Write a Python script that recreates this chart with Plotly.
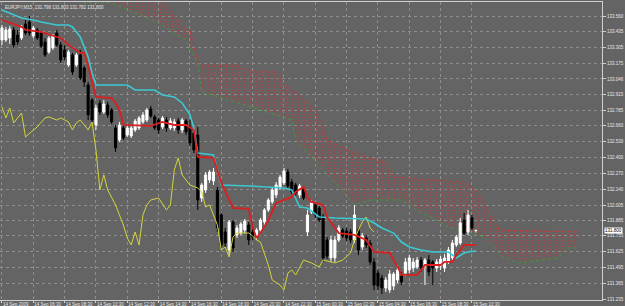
import plotly.graph_objects as go

# ---------------- data (EURJPY, M15) ----------------
open_ = [133.367,133.367,133.383,133.449,133.408,133.383,133.498,133.515,133.400,133.449,
         133.424,133.350,133.268,133.301,133.424,133.326,133.285,133.161,133.243,133.161,
         133.243,133.136,132.996,132.873,132.667,132.848,132.774,132.832,132.791,132.643,
         132.544,132.643,132.585,132.577,132.626,132.643,132.692,132.708,132.799,132.733,
         132.708,132.651,132.708,132.643,132.643,132.700,132.626,132.700,132.651,132.601,
         132.585,132.066,132.132,132.215,132.206,132.132,131.927,131.787,131.639,131.869,
         131.762,131.778,131.803,131.844,131.787,131.754,131.803,131.869,131.968,132.034,
         132.091,132.149,132.190,132.280,132.198,132.173,132.091,132.141,131.787,131.951,
         132.009,131.984,131.910,131.721,131.573,131.573,131.721,131.803,131.795,131.787,
         131.721,131.803,131.663,131.737,131.696,131.540,131.449,131.408,131.326,131.309,
         131.342,131.392,131.424,131.449,131.474,131.490,131.499,131.556,131.507,131.556,
         131.540,131.490,131.507,131.490,131.540,131.573,131.680,131.696,131.885,131.787,
         131.902,131.798]
high = [133.490,133.474,133.482,133.474,133.449,133.490,133.531,133.564,133.482,133.466,
        133.441,133.383,133.400,133.416,133.449,133.350,133.326,133.285,133.260,133.260,
        133.285,133.153,133.021,132.889,132.832,132.873,132.873,132.857,132.807,132.667,
        132.692,132.667,132.667,132.659,132.717,132.741,132.774,132.807,132.824,132.750,
        132.725,132.741,132.733,132.725,132.717,132.725,132.725,132.717,132.708,132.626,
        132.651,132.190,132.280,132.297,132.313,132.157,131.943,131.820,131.885,131.885,
        131.844,131.869,131.894,131.869,131.811,131.820,131.902,131.984,132.066,132.149,
        132.198,132.256,132.313,132.305,132.223,132.190,132.182,132.165,131.968,132.050,
        132.025,132.001,131.935,131.746,131.754,131.754,131.844,131.820,131.820,131.811,
        132.009,131.820,131.778,131.762,131.721,131.573,131.474,131.433,131.416,131.474,
        131.458,131.515,131.458,131.573,131.597,131.573,131.581,131.581,131.573,131.597,
        131.556,131.564,131.589,131.606,131.663,131.721,131.762,131.902,131.943,131.968,
        131.927,131.803]
low = [133.326,133.350,133.334,133.301,133.326,133.367,133.408,133.400,133.383,133.367,
       133.301,133.227,133.252,133.285,133.309,133.178,133.202,133.145,133.079,133.145,
       133.038,132.980,132.708,132.684,132.626,132.750,132.758,132.725,132.676,132.445,
       132.527,132.544,132.569,132.560,132.610,132.626,132.676,132.692,132.725,132.626,
       132.593,132.634,132.610,132.626,132.618,132.593,132.601,132.585,132.494,132.437,
       131.968,132.034,132.108,132.190,132.173,131.787,131.655,131.663,131.597,131.622,
       131.737,131.762,131.778,131.680,131.721,131.721,131.787,131.844,131.951,132.017,
       132.066,132.132,132.173,132.149,132.099,132.083,132.066,132.050,131.754,131.935,
       131.902,131.869,131.540,131.565,131.540,131.540,131.704,131.737,131.713,131.696,
       131.696,131.597,131.639,131.655,131.515,131.309,131.309,131.276,131.293,131.285,
       131.309,131.367,131.350,131.424,131.449,131.458,131.482,131.458,131.350,131.424,
       131.350,131.458,131.474,131.458,131.523,131.556,131.663,131.680,131.762,131.762,
       131.803,131.782]
close = [133.466,133.449,133.457,133.326,133.350,133.466,133.424,133.424,133.466,133.383,
         133.317,133.243,133.383,133.400,133.326,133.202,133.227,133.268,133.103,133.243,
         133.054,133.021,132.750,132.708,132.807,132.774,132.840,132.750,132.692,132.478,
         132.667,132.560,132.643,132.643,132.700,132.725,132.750,132.791,132.741,132.643,
         132.626,132.725,132.643,132.700,132.692,132.626,132.708,132.610,132.519,132.462,
         132.050,132.173,132.256,132.280,132.280,131.820,131.680,131.696,131.869,131.655,
         131.820,131.853,131.877,131.721,131.746,131.803,131.885,131.968,132.050,132.132,
         132.173,132.239,132.289,132.165,132.116,132.108,132.165,132.066,131.927,132.025,
         131.927,131.885,131.573,131.589,131.721,131.721,131.820,131.754,131.737,131.721,
         131.927,131.639,131.754,131.680,131.540,131.350,131.342,131.326,131.392,131.441,
         131.441,131.474,131.375,131.540,131.573,131.540,131.556,131.490,131.556,131.458,
         131.490,131.540,131.564,131.573,131.639,131.696,131.746,131.861,131.778,131.927,
         131.820,131.800]
bars = list(range(len(close)))

# Ichimoku lines (bar index of each vertex, price)
tenkan_bar = [0,2,5,6,10,14,15,17,20,21,22,24,28,29,30,31,38,41,44,47,48,49,50,54,56,59,63,64,65,66,
              68,70,74,75,77,78,79,82,83,86,90,93,95,99,101,102,106,108,112,113,115,116,118,121]
tenkan_val = [133.531,133.507,133.474,133.449,133.433,133.391,133.383,133.326,133.260,133.260,
              133.153,132.898,132.889,132.848,132.791,132.667,132.659,132.692,132.667,132.667,
              132.643,132.626,132.404,132.396,132.190,131.984,131.976,131.828,131.737,131.778,
              131.885,132.025,132.075,132.116,132.157,132.075,132.034,132.009,131.910,131.778,
              131.762,131.721,131.622,131.614,131.499,131.433,131.433,131.515,131.515,131.540,
              131.540,131.597,131.680,131.680]
kijun_bar = [0,2,5,8,10,14,17,18,20,22,23,24,32,34,39,41,44,46,48,49,50,54,56,63,69,72,74,76,78,81,
             85,93,95,97,100,102,104,107,110,114,116,118,119,121]
kijun_val = [133.614,133.589,133.548,133.531,133.515,133.490,133.490,133.474,133.391,133.227,
             133.095,132.996,132.996,132.955,132.955,132.914,132.898,132.848,132.750,132.643,
             132.437,132.420,132.173,132.165,132.157,132.149,132.132,131.992,131.984,131.910,
             131.902,131.894,131.861,131.820,131.778,131.704,131.663,131.639,131.622,131.622,
             131.573,131.614,131.622,131.630]
chikou_bar = [0,1,2,3,5,6,9,11,12,14,15,17,18,19,20,22,23,24,25,26,27,29,31,32,33,34,35,36,37,38,
              40,42,43,44,45,46,48,50,51,52,53,54,55,56,57,58,59,60,63,64,65,66,68,69,71,72,73,74,
              75,77,79,81,82,85,87,89,90,91,92,93,94,95]
chikou_val = [132.815,132.725,132.807,132.684,132.766,132.569,132.651,132.725,132.733,132.708,
              132.725,132.692,132.626,132.684,132.708,132.626,132.692,132.462,132.132,132.256,
              132.132,132.009,131.844,131.737,131.680,131.787,131.680,131.927,132.009,132.050,
              132.066,131.968,132.009,132.297,132.396,132.256,132.173,132.149,132.116,131.992,
              132.009,131.927,131.844,131.639,131.663,131.581,131.746,131.778,131.778,131.754,
              131.721,131.704,131.515,131.392,131.350,131.309,131.449,131.474,131.433,131.556,
              131.532,131.499,131.556,131.532,131.556,131.614,131.721,131.803,131.869,131.910,
              131.820,131.787]
spanA_bar = [0,18,21,25,28,40,47,50,51,58,66,74,75,79,86,90,94,102,106,111,114,123,128,132,142,144,147]
spanA_val = [133.800,133.737,133.671,133.680,133.671,133.507,133.367,133.177,132.939,132.873,
             132.791,132.708,132.544,132.404,132.157,132.009,132.050,132.050,131.968,131.885,
             131.828,131.746,131.581,131.532,131.573,131.655,131.655]
spanB_bar = [0,41,42,45,46,48,50,51,60,62,70,72,76,81,83,90,98,100,118,121,127,147]
spanB_val = [133.850,133.850,133.638,133.531,133.466,133.449,133.186,133.161,133.161,133.120,
             133.103,132.996,132.914,132.750,132.544,132.437,132.355,132.239,132.198,132.132,
             131.803,131.787]

# axis labels
xtick_bar = [0,8,16,24,32,40,48,56,64,72,80,88,96,104,112,120]
xtick_text = ["14 Sep 2009","14 Sep 06:30","14 Sep 08:30","14 Sep 10:30","14 Sep 12:30",
              "14 Sep 14:30","14 Sep 16:30","14 Sep 18:30","14 Sep 20:30","14 Sep 22:30",
              "15 Sep 00:30","15 Sep 02:30","15 Sep 04:30","15 Sep 06:30","15 Sep 08:30",
              "15 Sep 10:30"]
ytick_text = ["133.560","133.435","133.305","133.175","133.046","132.915","132.785","132.660",
              "132.530","132.400","132.270","132.140","132.005","131.885","131.755","131.625",
              "131.495","131.365","131.235"]
ytick_val = [float(t) for t in ytick_text]
title_text = "EURJPY,M15  131.798 131.803 131.782 131.800"
last_price = 131.800

# ---------------- styling ----------------
BG = "#646464"
GRID = "#8e8e8e"
FRAME = "#cfcfcf"
TXT = "#e8e8e8"
FONT = "Liberation Sans"
XR = [-0.5, 153.2]
YR = [131.227, 133.679]

fig = go.Figure()
# cloud (bottom subplot)
fig.add_trace(go.Scatter(x=spanB_bar, y=spanB_val, mode="lines",
                         line=dict(color="#c83a3a", width=1, dash="dot"), hoverinfo="skip"))
fig.add_trace(go.Scatter(x=spanA_bar, y=spanA_val, mode="lines",
                         line=dict(color="#3c9c3c", width=1, dash="dot"),
                         fill="tonexty", fillcolor="rgba(0,0,0,0)",
                         fillpattern=dict(shape=".", fgcolor="#e02828", bgcolor="rgba(0,0,0,0)",
                                          size=3, solidity=0.24),
                         hoverinfo="skip"))
# candles + lines (overlay subplot, drawn on top)
fig.add_trace(go.Candlestick(x=bars, open=open_, high=high, low=low, close=close,
                             xaxis="x2", yaxis="y2", whiskerwidth=0,
                             increasing=dict(line=dict(color="#ffffff", width=1), fillcolor="#ffffff"),
                             decreasing=dict(line=dict(color="#000000", width=1), fillcolor="#000000")))
fig.add_trace(go.Scatter(x=chikou_bar, y=chikou_val, mode="lines", xaxis="x2", yaxis="y2",
                         line=dict(color="#d4d43a", width=1)))
fig.add_trace(go.Scatter(x=kijun_bar, y=kijun_val, mode="lines", xaxis="x2", yaxis="y2",
                         line=dict(color="#3cc8d2", width=1.6)))
fig.add_trace(go.Scatter(x=tenkan_bar, y=tenkan_val, mode="lines", xaxis="x2", yaxis="y2",
                         line=dict(color="#dc1e1e", width=1.8)))

fig.update_layout(
    width=625, height=306, margin=dict(l=0, r=23, t=2, b=6),
    paper_bgcolor=BG, plot_bgcolor=BG, showlegend=False, boxgap=0.25,
    xaxis=dict(range=XR, tickvals=xtick_bar, ticktext=xtick_text, showgrid=True,
               gridcolor=GRID, griddash="dot", gridwidth=1, zeroline=False,
               showline=True, linecolor=FRAME, linewidth=1, mirror=True,
               ticks="outside", ticklen=2, tickcolor=FRAME, ticklabelposition="outside right",
               tickangle=0, tickfont=dict(size=4.5, color=TXT, family=FONT),
               rangeslider=dict(visible=False), fixedrange=True),
    yaxis=dict(range=YR, side="right", tickvals=ytick_val, ticktext=ytick_text,
               showgrid=True, gridcolor=GRID, griddash="dot", gridwidth=1, zeroline=False,
               showline=True, linecolor=FRAME, linewidth=1, mirror=True,
               ticks="outside", ticklen=3, tickcolor=FRAME,
               tickfont=dict(size=4.5, color=TXT, family=FONT), fixedrange=True),
    xaxis2=dict(overlaying="x", range=XR, visible=False, rangeslider=dict(visible=False)),
    yaxis2=dict(overlaying="y", range=YR, visible=False),
    annotations=[
        dict(x=0, y=1, xref="paper", yref="paper", xanchor="left", yanchor="top",
             xshift=3, yshift=-1, text=title_text, showarrow=False,
             font=dict(size=4.5, color=TXT, family=FONT)),
        dict(x=1, y=last_price, xref="paper", yref="y", xanchor="left", yanchor="middle",
             xshift=2, text=f"{last_price:.3f}", showarrow=False, bgcolor="#ffffff",
             borderpad=0, font=dict(size=4.5, color="#000000", family=FONT)),
    ],
)

fig.write_html("out.html")
